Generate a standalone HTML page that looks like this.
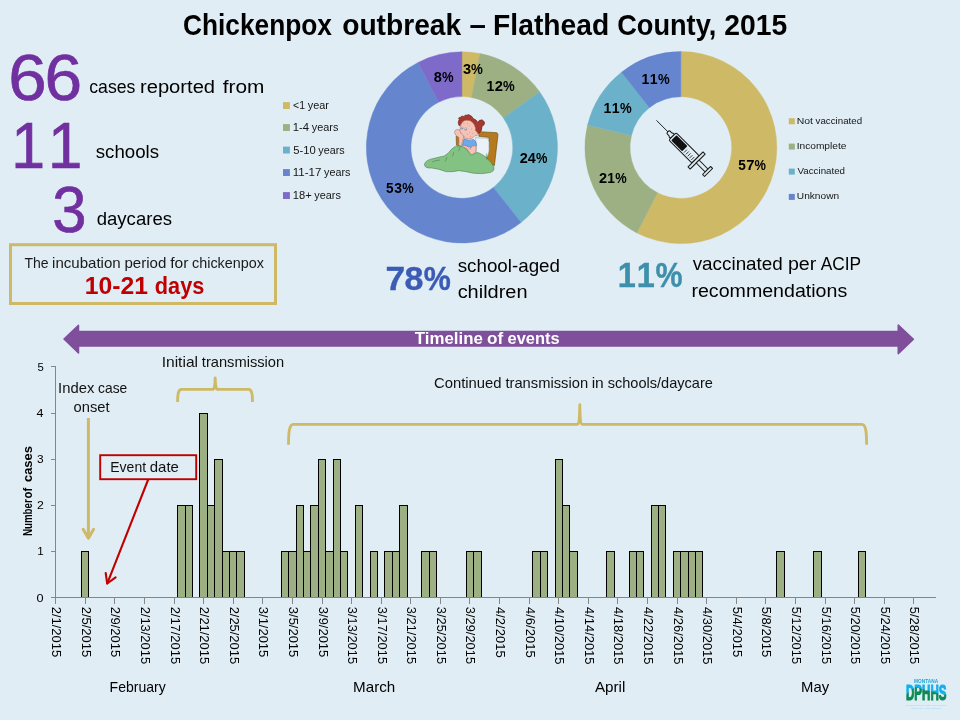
<!DOCTYPE html>
<html lang="en"><head><meta charset="utf-8"><title>Chickenpox outbreak – Flathead County, 2015</title>
<style>
html,body{margin:0;padding:0;background:#E0EDF4;}
body{width:960px;height:720px;overflow:hidden;}
svg{display:block;font-family:"Liberation Sans",sans-serif;}
</style></head><body>
<svg width="960" height="720" viewBox="0 0 960 720">
<rect width="960" height="720" fill="#E0EDF4"/>
<text y="35.00" font-size="29.40" font-weight="700" fill="#000"><tspan x="182.92" textLength="149.07" lengthAdjust="spacingAndGlyphs">Chickenpox</tspan> <tspan x="342.20" textLength="118.97" lengthAdjust="spacingAndGlyphs">outbreak</tspan> <tspan x="469.61" textLength="16.39" lengthAdjust="spacingAndGlyphs">–</tspan> <tspan x="493.11" textLength="116.05" lengthAdjust="spacingAndGlyphs">Flathead</tspan> <tspan x="617.19" textLength="99.13" lengthAdjust="spacingAndGlyphs">County,</tspan> <tspan x="724.22" textLength="62.97" lengthAdjust="spacingAndGlyphs">2015</tspan></text>
<text y="100.00" font-size="65.60" fill="#7030A0" stroke="#7030A0" stroke-width="0.7"><tspan x="8.19" textLength="38.45" lengthAdjust="spacingAndGlyphs">6</tspan><tspan x="44.57" textLength="37.61" lengthAdjust="spacingAndGlyphs">6</tspan></text>
<text y="167.50" font-size="65.60" fill="#7030A0" stroke="#7030A0" stroke-width="0.7"><tspan x="11.37" textLength="33.80" lengthAdjust="spacingAndGlyphs">1</tspan><tspan x="48.00" textLength="34.31" lengthAdjust="spacingAndGlyphs">1</tspan></text>
<text y="231.70" font-size="65.60" fill="#7030A0" stroke="#7030A0" stroke-width="0.7"><tspan x="52.15" textLength="34.25" lengthAdjust="spacingAndGlyphs">3</tspan></text>
<text y="93.20" font-size="18.88" fill="#000"><tspan x="89.26" textLength="46.17" lengthAdjust="spacingAndGlyphs">cases</tspan> <tspan x="139.96" textLength="75.14" lengthAdjust="spacingAndGlyphs">reported</tspan> <tspan x="222.70" textLength="41.67" lengthAdjust="spacingAndGlyphs">from</tspan></text>
<text y="158.20" font-size="18.88" fill="#000"><tspan x="95.78" textLength="63.19" lengthAdjust="spacingAndGlyphs">schools</tspan></text>
<text y="225.20" font-size="18.88" fill="#000"><tspan x="96.72" textLength="75.25" lengthAdjust="spacingAndGlyphs">daycares</tspan></text>
<rect x="10.5" y="244.7" width="265" height="58.8" fill="none" stroke="#CEB966" stroke-width="3"/>
<text y="268.20" font-size="14.16" fill="#1a1a1a"><tspan x="24.48" textLength="24.19" lengthAdjust="spacingAndGlyphs">The</tspan> <tspan x="52.07" textLength="68.66" lengthAdjust="spacingAndGlyphs">incubation</tspan> <tspan x="124.43" textLength="41.93" lengthAdjust="spacingAndGlyphs">period</tspan> <tspan x="170.18" textLength="18.20" lengthAdjust="spacingAndGlyphs">for</tspan> <tspan x="192.06" textLength="71.79" lengthAdjust="spacingAndGlyphs">chickenpox</tspan></text>
<text y="294.00" font-size="23.60" font-weight="700" fill="#C00000"><tspan x="84.80" textLength="63.22" lengthAdjust="spacingAndGlyphs">10-21</tspan> <tspan x="154.82" textLength="49.46" lengthAdjust="spacingAndGlyphs">days</tspan></text>
<rect x="283" y="102.10" width="6.9" height="6.9" fill="#CEB966"/>
<text y="109.45" font-size="10.62" fill="#151515"><tspan x="293.08" textLength="12.00" lengthAdjust="spacingAndGlyphs">&lt;1</tspan> <tspan x="307.85" textLength="21.08" lengthAdjust="spacingAndGlyphs">year</tspan></text>
<rect x="283" y="124.10" width="6.9" height="6.9" fill="#9CB084"/>
<text y="131.45" font-size="10.62" fill="#151515"><tspan x="292.74" textLength="16.35" lengthAdjust="spacingAndGlyphs">1-4</tspan> <tspan x="311.82" textLength="26.58" lengthAdjust="spacingAndGlyphs">years</tspan></text>
<rect x="283" y="146.60" width="6.9" height="6.9" fill="#6BB1C9"/>
<text y="153.95" font-size="10.62" fill="#151515"><tspan x="293.15" textLength="22.50" lengthAdjust="spacingAndGlyphs">5-10</tspan> <tspan x="318.36" textLength="26.28" lengthAdjust="spacingAndGlyphs">years</tspan></text>
<rect x="283" y="169.10" width="6.9" height="6.9" fill="#6585CF"/>
<text y="176.45" font-size="10.62" fill="#151515"><tspan x="292.72" textLength="28.74" lengthAdjust="spacingAndGlyphs">11-17</tspan> <tspan x="324.10" textLength="26.29" lengthAdjust="spacingAndGlyphs">years</tspan></text>
<rect x="283" y="192.10" width="6.9" height="6.9" fill="#7E6BC9"/>
<text y="199.45" font-size="10.62" fill="#151515"><tspan x="292.75" textLength="18.90" lengthAdjust="spacingAndGlyphs">18+</tspan> <tspan x="314.25" textLength="26.64" lengthAdjust="spacingAndGlyphs">years</tspan></text>
<path d="M461.90,51.80A95.6,95.6 0 0 1 479.99,53.53L471.53,97.42A50.9,50.9 0 0 0 461.90,96.50Z" fill="#CEB966" stroke="#CEB966" stroke-width="0.4"/>
<path d="M479.99,53.53A95.6,95.6 0 0 1 539.77,91.95L503.36,117.88A50.9,50.9 0 0 0 471.53,97.42Z" fill="#9CB084" stroke="#9CB084" stroke-width="0.4"/>
<path d="M539.77,91.95A95.6,95.6 0 0 1 521.00,222.55L493.36,187.41A50.9,50.9 0 0 0 503.36,117.88Z" fill="#6BB1C9" stroke="#6BB1C9" stroke-width="0.4"/>
<path d="M521.00,222.55A95.6,95.6 0 1 1 418.09,62.43L438.58,102.16A50.9,50.9 0 1 0 493.36,187.41Z" fill="#6585CF" stroke="#6585CF" stroke-width="0.4"/>
<path d="M418.09,62.43A95.6,95.6 0 0 1 461.90,51.80L461.90,96.50A50.9,50.9 0 0 0 438.58,102.16Z" fill="#7E6BC9" stroke="#7E6BC9" stroke-width="0.4"/>
<text y="74.25" font-size="14.16" font-weight="700" fill="#000"><tspan x="462.92" textLength="8.11" lengthAdjust="spacingAndGlyphs">3</tspan><tspan x="471.03" textLength="11.82" lengthAdjust="spacingAndGlyphs">%</tspan></text>
<text y="81.95" font-size="14.16" font-weight="700" fill="#000"><tspan x="433.79" textLength="8.11" lengthAdjust="spacingAndGlyphs">8</tspan><tspan x="442.00" textLength="11.59" lengthAdjust="spacingAndGlyphs">%</tspan></text>
<text y="91.00" font-size="14.16" font-weight="700" fill="#000"><tspan x="486.62" textLength="7.79" lengthAdjust="spacingAndGlyphs">1</tspan><tspan x="494.66" textLength="8.21" lengthAdjust="spacingAndGlyphs">2</tspan><tspan x="502.92" textLength="11.68" lengthAdjust="spacingAndGlyphs">%</tspan></text>
<text y="163.40" font-size="14.16" font-weight="700" fill="#000"><tspan x="519.80" textLength="8.03" lengthAdjust="spacingAndGlyphs">2</tspan><tspan x="527.70" textLength="7.97" lengthAdjust="spacingAndGlyphs">4</tspan><tspan x="535.91" textLength="11.43" lengthAdjust="spacingAndGlyphs">%</tspan></text>
<text y="193.15" font-size="14.16" font-weight="700" fill="#000"><tspan x="386.08" textLength="7.56" lengthAdjust="spacingAndGlyphs">5</tspan><tspan x="394.34" textLength="7.83" lengthAdjust="spacingAndGlyphs">3</tspan><tspan x="402.17" textLength="11.42" lengthAdjust="spacingAndGlyphs">%</tspan></text>
<path d="M680.85,51.60A96.0,96.0 0 1 1 636.86,232.93L657.55,192.80A50.85,50.85 0 1 0 680.85,96.75Z" fill="#CEB966" stroke="#CEB966" stroke-width="0.4"/>
<path d="M636.86,232.93A96.0,96.0 0 0 1 587.56,124.97L631.43,135.61A50.85,50.85 0 0 0 657.55,192.80Z" fill="#9CB084" stroke="#9CB084" stroke-width="0.4"/>
<path d="M587.56,124.97A96.0,96.0 0 0 1 621.51,72.14L649.42,107.63A50.85,50.85 0 0 0 631.43,135.61Z" fill="#6BB1C9" stroke="#6BB1C9" stroke-width="0.4"/>
<path d="M621.51,72.14A96.0,96.0 0 0 1 680.85,51.60L680.85,96.75A50.85,50.85 0 0 0 649.42,107.63Z" fill="#6585CF" stroke="#6585CF" stroke-width="0.4"/>
<text y="83.50" font-size="14.16" font-weight="700" fill="#000"><tspan x="641.62" textLength="7.79" lengthAdjust="spacingAndGlyphs">1</tspan><tspan x="649.83" textLength="7.79" lengthAdjust="spacingAndGlyphs">1</tspan><tspan x="657.92" textLength="11.68" lengthAdjust="spacingAndGlyphs">%</tspan></text>
<text y="113.30" font-size="14.16" font-weight="700" fill="#000"><tspan x="603.62" textLength="7.79" lengthAdjust="spacingAndGlyphs">1</tspan><tspan x="611.83" textLength="7.79" lengthAdjust="spacingAndGlyphs">1</tspan><tspan x="619.92" textLength="11.68" lengthAdjust="spacingAndGlyphs">%</tspan></text>
<text y="183.00" font-size="14.16" font-weight="700" fill="#000"><tspan x="599.00" textLength="8.05" lengthAdjust="spacingAndGlyphs">2</tspan><tspan x="607.21" textLength="7.64" lengthAdjust="spacingAndGlyphs">1</tspan><tspan x="615.14" textLength="11.45" lengthAdjust="spacingAndGlyphs">%</tspan></text>
<text y="169.70" font-size="14.16" font-weight="700" fill="#000"><tspan x="738.33" textLength="7.56" lengthAdjust="spacingAndGlyphs">5</tspan><tspan x="746.32" textLength="8.27" lengthAdjust="spacingAndGlyphs">7</tspan><tspan x="754.42" textLength="11.42" lengthAdjust="spacingAndGlyphs">%</tspan></text>
<rect x="788.8" y="118.25" width="6" height="6" fill="#CEB966"/>
<text y="123.80" font-size="9.70" fill="#151515"><tspan x="796.74" textLength="16.22" lengthAdjust="spacingAndGlyphs">Not</tspan> <tspan x="815.59" textLength="46.54" lengthAdjust="spacingAndGlyphs">vaccinated</tspan></text>
<rect x="788.8" y="143.60" width="6" height="6" fill="#9CB084"/>
<text y="149.10" font-size="9.70" fill="#151515"><tspan x="796.66" textLength="49.79" lengthAdjust="spacingAndGlyphs">Incomplete</tspan></text>
<rect x="788.8" y="168.60" width="6" height="6" fill="#6BB1C9"/>
<text y="173.80" font-size="9.70" fill="#151515"><tspan x="797.56" textLength="47.47" lengthAdjust="spacingAndGlyphs">Vaccinated</tspan></text>
<rect x="788.8" y="193.90" width="6" height="6" fill="#6585CF"/>
<text y="198.80" font-size="9.70" fill="#151515"><tspan x="796.82" textLength="42.34" lengthAdjust="spacingAndGlyphs">Unknown</tspan></text>
<text y="290.45" font-size="33.04" font-weight="700" fill="#3B5BB5" stroke="#3B5BB5" stroke-width="0.4"><tspan x="385.49" textLength="19.60" lengthAdjust="spacingAndGlyphs">7</tspan><tspan x="404.57" textLength="18.92" lengthAdjust="spacingAndGlyphs">8</tspan><tspan x="423.74" textLength="27.06" lengthAdjust="spacingAndGlyphs">%</tspan></text>
<text y="271.70" font-size="18.88" fill="#000"><tspan x="457.73" textLength="102.23" lengthAdjust="spacingAndGlyphs">school-aged</tspan></text>
<text y="297.70" font-size="18.88" fill="#000"><tspan x="457.65" textLength="69.89" lengthAdjust="spacingAndGlyphs">children</tspan></text>
<text y="287.40" font-size="34.20" font-weight="700" fill="#3E8FAB" stroke="#3E8FAB" stroke-width="0.4"><tspan x="617.76" textLength="18.03" lengthAdjust="spacingAndGlyphs">1</tspan><tspan x="636.76" textLength="18.03" lengthAdjust="spacingAndGlyphs">1</tspan><tspan x="655.48" textLength="27.02" lengthAdjust="spacingAndGlyphs">%</tspan></text>
<text y="270.20" font-size="18.88" fill="#000"><tspan x="692.69" textLength="90.11" lengthAdjust="spacingAndGlyphs">vaccinated</tspan> <tspan x="787.95" textLength="28.39" lengthAdjust="spacingAndGlyphs">per</tspan> <tspan x="820.63" textLength="40.44" lengthAdjust="spacingAndGlyphs">ACIP</tspan></text>
<text y="296.90" font-size="18.88" fill="#000"><tspan x="691.45" textLength="155.76" lengthAdjust="spacingAndGlyphs">recommendations</tspan></text>
<path d="M64,339 L78.5,325.2 L78.5,331.45 L898.25,331.45 L898.25,325 L913.4,339.2 L898.25,353.6 L898.25,346.05 L78.5,346.05 L78.5,353 Z" fill="#7F4F9B" stroke="#7F4F9B" stroke-width="1.5" stroke-linejoin="round"/>
<text y="343.90" font-size="16.52" font-weight="700" fill="#fff"><tspan x="414.81" textLength="68.03" lengthAdjust="spacingAndGlyphs">Timeline</tspan> <tspan x="487.02" textLength="16.18" lengthAdjust="spacingAndGlyphs">of</tspan> <tspan x="507.53" textLength="52.15" lengthAdjust="spacingAndGlyphs">events</tspan></text>
<g fill="#9CB084" stroke="#000" stroke-width="1">
<rect x="81.5" y="551.5" width="7.0" height="46.0"/>
<rect x="177.5" y="505.5" width="8.0" height="92.0"/>
<rect x="185.5" y="505.5" width="7.0" height="92.0"/>
<rect x="199.5" y="413.5" width="8.0" height="184.0"/>
<rect x="207.5" y="505.5" width="7.0" height="92.0"/>
<rect x="214.5" y="459.5" width="8.0" height="138.0"/>
<rect x="222.5" y="551.5" width="7.0" height="46.0"/>
<rect x="229.5" y="551.5" width="7.0" height="46.0"/>
<rect x="236.5" y="551.5" width="8.0" height="46.0"/>
<rect x="281.5" y="551.5" width="7.0" height="46.0"/>
<rect x="288.5" y="551.5" width="8.0" height="46.0"/>
<rect x="296.5" y="505.5" width="7.0" height="92.0"/>
<rect x="303.5" y="551.5" width="7.0" height="46.0"/>
<rect x="310.5" y="505.5" width="8.0" height="92.0"/>
<rect x="318.5" y="459.5" width="7.0" height="138.0"/>
<rect x="325.5" y="551.5" width="8.0" height="46.0"/>
<rect x="333.5" y="459.5" width="7.0" height="138.0"/>
<rect x="340.5" y="551.5" width="7.0" height="46.0"/>
<rect x="355.5" y="505.5" width="7.0" height="92.0"/>
<rect x="370.5" y="551.5" width="7.0" height="46.0"/>
<rect x="384.5" y="551.5" width="8.0" height="46.0"/>
<rect x="392.5" y="551.5" width="7.0" height="46.0"/>
<rect x="399.5" y="505.5" width="8.0" height="92.0"/>
<rect x="421.5" y="551.5" width="8.0" height="46.0"/>
<rect x="429.5" y="551.5" width="7.0" height="46.0"/>
<rect x="466.5" y="551.5" width="7.0" height="46.0"/>
<rect x="473.5" y="551.5" width="8.0" height="46.0"/>
<rect x="532.5" y="551.5" width="8.0" height="46.0"/>
<rect x="540.5" y="551.5" width="7.0" height="46.0"/>
<rect x="555.5" y="459.5" width="7.0" height="138.0"/>
<rect x="562.5" y="505.5" width="7.0" height="92.0"/>
<rect x="569.5" y="551.5" width="8.0" height="46.0"/>
<rect x="606.5" y="551.5" width="8.0" height="46.0"/>
<rect x="629.5" y="551.5" width="7.0" height="46.0"/>
<rect x="636.5" y="551.5" width="7.0" height="46.0"/>
<rect x="651.5" y="505.5" width="7.0" height="92.0"/>
<rect x="658.5" y="505.5" width="7.0" height="92.0"/>
<rect x="673.5" y="551.5" width="7.0" height="46.0"/>
<rect x="680.5" y="551.5" width="8.0" height="46.0"/>
<rect x="688.5" y="551.5" width="7.0" height="46.0"/>
<rect x="695.5" y="551.5" width="7.0" height="46.0"/>
<rect x="776.5" y="551.5" width="8.0" height="46.0"/>
<rect x="813.5" y="551.5" width="8.0" height="46.0"/>
<rect x="858.5" y="551.5" width="7.0" height="46.0"/>
</g>
<g stroke="#868686" stroke-width="1" fill="none" shape-rendering="crispEdges">
<path d="M55.5,366V597.5H936"/>
<path d="M50.5,597.50H55.5"/>
<path d="M50.5,551.50H55.5"/>
<path d="M50.5,505.50H55.5"/>
<path d="M50.5,459.50H55.5"/>
<path d="M50.5,413.50H55.5"/>
<path d="M50.5,366.50H55.5"/>
<path d="M55.50,597.5V603.5"/>
<path d="M85.50,597.5V603.5"/>
<path d="M114.50,597.5V603.5"/>
<path d="M144.50,597.5V603.5"/>
<path d="M174.50,597.5V603.5"/>
<path d="M203.50,597.5V603.5"/>
<path d="M233.50,597.5V603.5"/>
<path d="M262.50,597.5V603.5"/>
<path d="M292.50,597.5V603.5"/>
<path d="M322.50,597.5V603.5"/>
<path d="M351.50,597.5V603.5"/>
<path d="M381.50,597.5V603.5"/>
<path d="M410.50,597.5V603.5"/>
<path d="M440.50,597.5V603.5"/>
<path d="M469.50,597.5V603.5"/>
<path d="M499.50,597.5V603.5"/>
<path d="M529.50,597.5V603.5"/>
<path d="M558.50,597.5V603.5"/>
<path d="M588.50,597.5V603.5"/>
<path d="M617.50,597.5V603.5"/>
<path d="M647.50,597.5V603.5"/>
<path d="M677.50,597.5V603.5"/>
<path d="M706.50,597.5V603.5"/>
<path d="M736.50,597.5V603.5"/>
<path d="M765.50,597.5V603.5"/>
<path d="M795.50,597.5V603.5"/>
<path d="M825.50,597.5V603.5"/>
<path d="M854.50,597.5V603.5"/>
<path d="M884.50,597.5V603.5"/>
<path d="M913.50,597.5V603.5"/>
</g>
<text y="601.50" font-size="11.80" fill="#000"><tspan x="36.64" textLength="7.06" lengthAdjust="spacingAndGlyphs">0</tspan></text>
<text y="555.40" font-size="11.80" fill="#000"><tspan x="37.31" textLength="6.46" lengthAdjust="spacingAndGlyphs">1</tspan></text>
<text y="509.30" font-size="11.80" fill="#000"><tspan x="36.99" textLength="6.83" lengthAdjust="spacingAndGlyphs">2</tspan></text>
<text y="463.20" font-size="11.80" fill="#000"><tspan x="37.12" textLength="6.61" lengthAdjust="spacingAndGlyphs">3</tspan></text>
<text y="417.10" font-size="11.80" fill="#000"><tspan x="36.60" textLength="6.96" lengthAdjust="spacingAndGlyphs">4</tspan></text>
<text y="371.00" font-size="11.80" fill="#000"><tspan x="37.38" textLength="6.29" lengthAdjust="spacingAndGlyphs">5</tspan></text>
<text y="0.00" font-size="12.40" fill="#000" transform="translate(51.50,607.3) rotate(90)"><tspan x="-0.65" textLength="50.66" lengthAdjust="spacingAndGlyphs">2/1/2015</tspan></text>
<text y="0.00" font-size="12.40" fill="#000" transform="translate(81.50,607.3) rotate(90)"><tspan x="-0.65" textLength="50.66" lengthAdjust="spacingAndGlyphs">2/5/2015</tspan></text>
<text y="0.00" font-size="12.40" fill="#000" transform="translate(110.50,607.3) rotate(90)"><tspan x="-0.65" textLength="50.66" lengthAdjust="spacingAndGlyphs">2/9/2015</tspan></text>
<text y="0.00" font-size="12.40" fill="#000" transform="translate(140.50,607.3) rotate(90)"><tspan x="-0.65" textLength="57.41" lengthAdjust="spacingAndGlyphs">2/13/2015</tspan></text>
<text y="0.00" font-size="12.40" fill="#000" transform="translate(170.50,607.3) rotate(90)"><tspan x="-0.65" textLength="57.41" lengthAdjust="spacingAndGlyphs">2/17/2015</tspan></text>
<text y="0.00" font-size="12.40" fill="#000" transform="translate(199.50,607.3) rotate(90)"><tspan x="-0.65" textLength="57.41" lengthAdjust="spacingAndGlyphs">2/21/2015</tspan></text>
<text y="0.00" font-size="12.40" fill="#000" transform="translate(229.50,607.3) rotate(90)"><tspan x="-0.65" textLength="57.41" lengthAdjust="spacingAndGlyphs">2/25/2015</tspan></text>
<text y="0.00" font-size="12.40" fill="#000" transform="translate(258.50,607.3) rotate(90)"><tspan x="-0.49" textLength="50.48" lengthAdjust="spacingAndGlyphs">3/1/2015</tspan></text>
<text y="0.00" font-size="12.40" fill="#000" transform="translate(288.50,607.3) rotate(90)"><tspan x="-0.49" textLength="50.48" lengthAdjust="spacingAndGlyphs">3/5/2015</tspan></text>
<text y="0.00" font-size="12.40" fill="#000" transform="translate(318.50,607.3) rotate(90)"><tspan x="-0.49" textLength="50.48" lengthAdjust="spacingAndGlyphs">3/9/2015</tspan></text>
<text y="0.00" font-size="12.40" fill="#000" transform="translate(347.50,607.3) rotate(90)"><tspan x="-0.49" textLength="57.23" lengthAdjust="spacingAndGlyphs">3/13/2015</tspan></text>
<text y="0.00" font-size="12.40" fill="#000" transform="translate(377.50,607.3) rotate(90)"><tspan x="-0.49" textLength="57.23" lengthAdjust="spacingAndGlyphs">3/17/2015</tspan></text>
<text y="0.00" font-size="12.40" fill="#000" transform="translate(406.50,607.3) rotate(90)"><tspan x="-0.49" textLength="57.23" lengthAdjust="spacingAndGlyphs">3/21/2015</tspan></text>
<text y="0.00" font-size="12.40" fill="#000" transform="translate(436.50,607.3) rotate(90)"><tspan x="-0.49" textLength="57.23" lengthAdjust="spacingAndGlyphs">3/25/2015</tspan></text>
<text y="0.00" font-size="12.40" fill="#000" transform="translate(465.50,607.3) rotate(90)"><tspan x="-0.49" textLength="57.23" lengthAdjust="spacingAndGlyphs">3/29/2015</tspan></text>
<text y="0.00" font-size="12.40" fill="#000" transform="translate(495.50,607.3) rotate(90)"><tspan x="-0.30" textLength="50.68" lengthAdjust="spacingAndGlyphs">4/2/2015</tspan></text>
<text y="0.00" font-size="12.40" fill="#000" transform="translate(525.50,607.3) rotate(90)"><tspan x="-0.30" textLength="50.68" lengthAdjust="spacingAndGlyphs">4/6/2015</tspan></text>
<text y="0.00" font-size="12.40" fill="#000" transform="translate(554.50,607.3) rotate(90)"><tspan x="-0.30" textLength="57.43" lengthAdjust="spacingAndGlyphs">4/10/2015</tspan></text>
<text y="0.00" font-size="12.40" fill="#000" transform="translate(584.50,607.3) rotate(90)"><tspan x="-0.30" textLength="57.43" lengthAdjust="spacingAndGlyphs">4/14/2015</tspan></text>
<text y="0.00" font-size="12.40" fill="#000" transform="translate(613.50,607.3) rotate(90)"><tspan x="-0.30" textLength="57.43" lengthAdjust="spacingAndGlyphs">4/18/2015</tspan></text>
<text y="0.00" font-size="12.40" fill="#000" transform="translate(643.50,607.3) rotate(90)"><tspan x="-0.30" textLength="57.43" lengthAdjust="spacingAndGlyphs">4/22/2015</tspan></text>
<text y="0.00" font-size="12.40" fill="#000" transform="translate(673.50,607.3) rotate(90)"><tspan x="-0.30" textLength="57.43" lengthAdjust="spacingAndGlyphs">4/26/2015</tspan></text>
<text y="0.00" font-size="12.40" fill="#000" transform="translate(702.50,607.3) rotate(90)"><tspan x="-0.30" textLength="57.43" lengthAdjust="spacingAndGlyphs">4/30/2015</tspan></text>
<text y="0.00" font-size="12.40" fill="#000" transform="translate(732.50,607.3) rotate(90)"><tspan x="-0.52" textLength="50.52" lengthAdjust="spacingAndGlyphs">5/4/2015</tspan></text>
<text y="0.00" font-size="12.40" fill="#000" transform="translate(761.50,607.3) rotate(90)"><tspan x="-0.52" textLength="50.52" lengthAdjust="spacingAndGlyphs">5/8/2015</tspan></text>
<text y="0.00" font-size="12.40" fill="#000" transform="translate(791.50,607.3) rotate(90)"><tspan x="-0.52" textLength="57.27" lengthAdjust="spacingAndGlyphs">5/12/2015</tspan></text>
<text y="0.00" font-size="12.40" fill="#000" transform="translate(821.50,607.3) rotate(90)"><tspan x="-0.52" textLength="57.27" lengthAdjust="spacingAndGlyphs">5/16/2015</tspan></text>
<text y="0.00" font-size="12.40" fill="#000" transform="translate(850.50,607.3) rotate(90)"><tspan x="-0.52" textLength="57.27" lengthAdjust="spacingAndGlyphs">5/20/2015</tspan></text>
<text y="0.00" font-size="12.40" fill="#000" transform="translate(880.50,607.3) rotate(90)"><tspan x="-0.52" textLength="57.27" lengthAdjust="spacingAndGlyphs">5/24/2015</tspan></text>
<text y="0.00" font-size="12.40" fill="#000" transform="translate(909.50,607.3) rotate(90)"><tspan x="-0.52" textLength="57.27" lengthAdjust="spacingAndGlyphs">5/28/2015</tspan></text>
<text y="0.00" font-size="13.00" font-weight="700" fill="#000" transform="translate(32.3,535.2) rotate(-90)"><tspan x="-0.84" textLength="36.78" lengthAdjust="spacingAndGlyphs">Number</tspan> <tspan x="36.76" textLength="10.62" lengthAdjust="spacingAndGlyphs">of</tspan> <tspan x="53.17" textLength="35.88" lengthAdjust="spacingAndGlyphs">cases</tspan></text>
<text y="692.45" font-size="14.16" fill="#000"><tspan x="109.60" textLength="56.18" lengthAdjust="spacingAndGlyphs">February</tspan></text>
<text y="692.40" font-size="14.16" fill="#000"><tspan x="353.05" textLength="42.23" lengthAdjust="spacingAndGlyphs">March</tspan></text>
<text y="692.40" font-size="14.16" fill="#000"><tspan x="594.97" textLength="30.34" lengthAdjust="spacingAndGlyphs">April</tspan></text>
<text y="691.90" font-size="14.16" fill="#000"><tspan x="801.08" textLength="28.05" lengthAdjust="spacingAndGlyphs">May</tspan></text>
<text y="367.30" font-size="14.16" fill="#111"><tspan x="161.66" textLength="36.39" lengthAdjust="spacingAndGlyphs">Initial</tspan> <tspan x="201.82" textLength="82.36" lengthAdjust="spacingAndGlyphs">transmission</tspan></text>
<text y="392.80" font-size="14.16" fill="#111"><tspan x="58.13" textLength="36.24" lengthAdjust="spacingAndGlyphs">Index</tspan> <tspan x="98.05" textLength="29.16" lengthAdjust="spacingAndGlyphs">case</tspan></text>
<text y="412.05" font-size="14.16" fill="#111"><tspan x="73.63" textLength="35.98" lengthAdjust="spacingAndGlyphs">onset</tspan></text>
<text y="388.30" font-size="14.16" fill="#111"><tspan x="433.95" textLength="67.64" lengthAdjust="spacingAndGlyphs">Continued</tspan> <tspan x="505.43" textLength="82.68" lengthAdjust="spacingAndGlyphs">transmission</tspan> <tspan x="591.67" textLength="12.16" lengthAdjust="spacingAndGlyphs">in</tspan> <tspan x="607.66" textLength="105.18" lengthAdjust="spacingAndGlyphs">schools/daycare</tspan></text>
<g fill="none" stroke="#CEB966" stroke-width="2.8" stroke-linecap="butt" stroke-linejoin="round">
<path d="M177.6,402 C177.6,396 177.8,389.4 181.5,389.4 H212.4 C214.5,389.4 214.9,386.5 215.2,377.8 C215.5,386.5 215.9,389.4 218,389.4 H248.6 C252.3,389.4 252.5,396 252.5,402"/>
<path d="M288.5,444.8 C288.5,433 289.2,424.4 293.2,424.4 H577 C579.1,424.4 579.5,420 579.8,404.6 C580.1,420 580.5,424.4 582.6,424.4 H862 C866,424.4 866.6,433 866.6,444.8"/>
<path d="M88.4,418 V537" stroke-width="3"/>
<path d="M83.2,529.3 L88.4,538.2 L93.6,529.3" stroke-linecap="round" stroke-width="3"/>
</g>
<rect x="100.2" y="455.2" width="96" height="24" fill="#E0EDF4" stroke="#C00000" stroke-width="1.9"/>
<text y="472.05" font-size="14.16" fill="#111"><tspan x="110.25" textLength="35.81" lengthAdjust="spacingAndGlyphs">Event</tspan> <tspan x="149.80" textLength="29.12" lengthAdjust="spacingAndGlyphs">date</tspan></text>
<g fill="none" stroke="#C00000" stroke-width="2.1" stroke-linecap="round" stroke-linejoin="round"><path d="M148,480 L107.3,583.3"/><path d="M105.7,573 L107.2,583.5 L115.6,577.3"/></g>
<g transform="translate(415,105) scale(0.104167)">
<path d="M395,300 L425,300 L428,400 L398,385 Z" fill="#B5791E" stroke="#6b4a12" stroke-width="6"/>
<path d="M618,256 L785,266 Q798,268 796,292 L762,582 L688,540 L712,330 Q714,312 700,310 L612,300 Z" fill="#B5791E" stroke="#6b4a12" stroke-width="6" stroke-linejoin="round"/>
<path d="M582,314 L700,320 Q718,360 710,400 Q718,440 692,500 L590,470 Z" fill="#EAF1F7" stroke="#8fa0ab" stroke-width="5"/>
<path d="M424,200 Q405,165 425,140 L418,125 Q440,118 452,105 L470,112 Q480,88 500,98 L512,92 Q545,100 562,132 Q590,140 603,168 Q612,140 645,143 Q680,158 662,192 Q640,197 642,215 Q645,250 612,272 Q590,282 575,265 L560,200 Q500,150 440,190 Z" fill="#A5382F" stroke="#6a1d19" stroke-width="6" stroke-linejoin="round"/>
<path d="M436,196 Q462,128 530,152 Q582,180 582,250 Q600,255 605,280 Q600,300 575,295 Q545,335 490,320 Q440,310 415,290 Q395,270 410,245 Q425,235 435,240 Q430,215 440,190 Z" fill="#F5C3B6" stroke="#a86a5c" stroke-width="5" stroke-linejoin="round"/>
<path d="M385,245 Q400,228 425,240 Q440,275 470,300 L462,322 Q450,360 447,395 L420,392 Q425,340 420,310 Q385,295 380,265 Z" fill="#F5C3B6" stroke="#a86a5c" stroke-width="5" stroke-linejoin="round"/>
<path d="M470,325 Q520,350 560,330 Q590,345 592,390 L560,420 L520,400 L455,385 Z" fill="#6FA9E9" stroke="#3f6fa8" stroke-width="5" stroke-linejoin="round"/>
<path d="M545,395 Q575,385 588,400 Q590,440 570,475 L535,480 Q520,450 500,420 Q470,415 445,400 Q455,385 480,388 Q510,392 530,425 Z" fill="#F5C3B6" stroke="#a86a5c" stroke-width="5" stroke-linejoin="round"/>
<ellipse cx="452" cy="222" rx="9" ry="12" fill="#fff" stroke="#3a5a80" stroke-width="4"/><ellipse cx="487" cy="232" rx="10" ry="13" fill="#fff" stroke="#3a5a80" stroke-width="4"/><circle cx="452" cy="226" r="5" fill="#3a6a9a"/><circle cx="488" cy="236" r="5" fill="#3a6a9a"/>
<g fill="#d9584e"><circle cx="520" cy="200" r="4"/><circle cx="545" cy="230" r="4"/><circle cx="525" cy="265" r="4"/><circle cx="500" cy="285" r="4"/><circle cx="555" cy="270" r="4"/><circle cx="470" cy="180" r="4"/><circle cx="505" cy="175" r="4"/><circle cx="440" cy="270" r="4"/><circle cx="470" cy="300" r="4"/><circle cx="535" cy="300" r="4"/></g>
<path d="M90,575 Q95,535 150,520 Q230,500 280,490 Q320,470 350,425 Q385,385 425,392 Q470,395 500,430 Q520,470 545,480 Q580,450 610,458 Q660,480 690,510 Q745,560 758,600 Q765,640 710,650 Q640,665 560,655 Q480,635 420,630 Q350,645 300,640 Q220,610 160,605 Q100,610 90,575 Z" fill="#84C283" stroke="#3f7a45" stroke-width="5" stroke-linejoin="round"/>
<path d="M170,545 Q200,530 235,528 M290,540 Q300,520 305,505 M360,490 Q370,470 372,455 M420,440 Q430,420 432,400 M690,520 Q680,490 685,470" fill="none" stroke="#3f7a45" stroke-width="5" stroke-linecap="round"/>
</g>
<g transform="translate(656.5,120.4) rotate(45)" fill="none" stroke="#1a1a1a" stroke-width="1" stroke-linejoin="round">
<path d="M0,0 H16.5" stroke-width="0.9"/>
<path d="M16.8,-2 H19.6 Q20.4,-2 20.6,-2.8 H22.6 V2.8 H20.6 Q20.4,2 19.6,2 H16.8 Q15.2,0 16.8,-2 Z" fill="#E0EDF4"/>
<rect x="22.6" y="-5.2" width="32.6" height="10.4" rx="1.6" fill="#E0EDF4"/>
<rect x="24.6" y="-3.7" width="15.4" height="7.4" rx="0.8" fill="#111" stroke="none"/>
<path d="M42.2,-0.8 V3.4 M44.8,-0.8 V3.4 M47.4,-0.8 V3.4 M50,-0.8 V3.4 M52.6,-0.8 V3.4" stroke-width="0.8"/>
<rect x="55.2" y="-10.6" width="3" height="21.2" fill="#E0EDF4"/>
<rect x="58.2" y="-2" width="12.6" height="4" fill="#E0EDF4"/>
<rect x="70.8" y="-5.7" width="2.8" height="11.4" fill="#E0EDF4"/>
</g>
<defs><pattern id="lg" patternUnits="userSpaceOnUse" x="900" y="680" width="60" height="30"><rect width="60" height="30" fill="#14B0EE"/><path d="M0,16 L5.9,15 L14.6,6.9 Q24,9 31,11.2 T46.6,15 L60,16 V30 H0 Z" fill="#0B8A55"/></pattern></defs>
<text x="914.1" y="682.5" font-size="5.2" font-weight="700" fill="#1AA7DC" textLength="24" lengthAdjust="spacingAndGlyphs">MONTANA</text>
<text x="905.9" y="700.0" font-size="22" font-weight="700" fill="url(#lg)" stroke="url(#lg)" stroke-width="1.2" textLength="40.6" lengthAdjust="spacingAndGlyphs">DPHHS</text>
<text x="906" y="705.5" font-size="2.5" fill="#8fd8f0" textLength="40" lengthAdjust="spacingAndGlyphs">Department of Public Health &amp; Human Services</text>
<text x="911" y="709.2" font-size="2.5" fill="#8fd8f0" textLength="30.5" lengthAdjust="spacingAndGlyphs">Healthy People. Healthy Communities.</text>
</svg></body></html>
